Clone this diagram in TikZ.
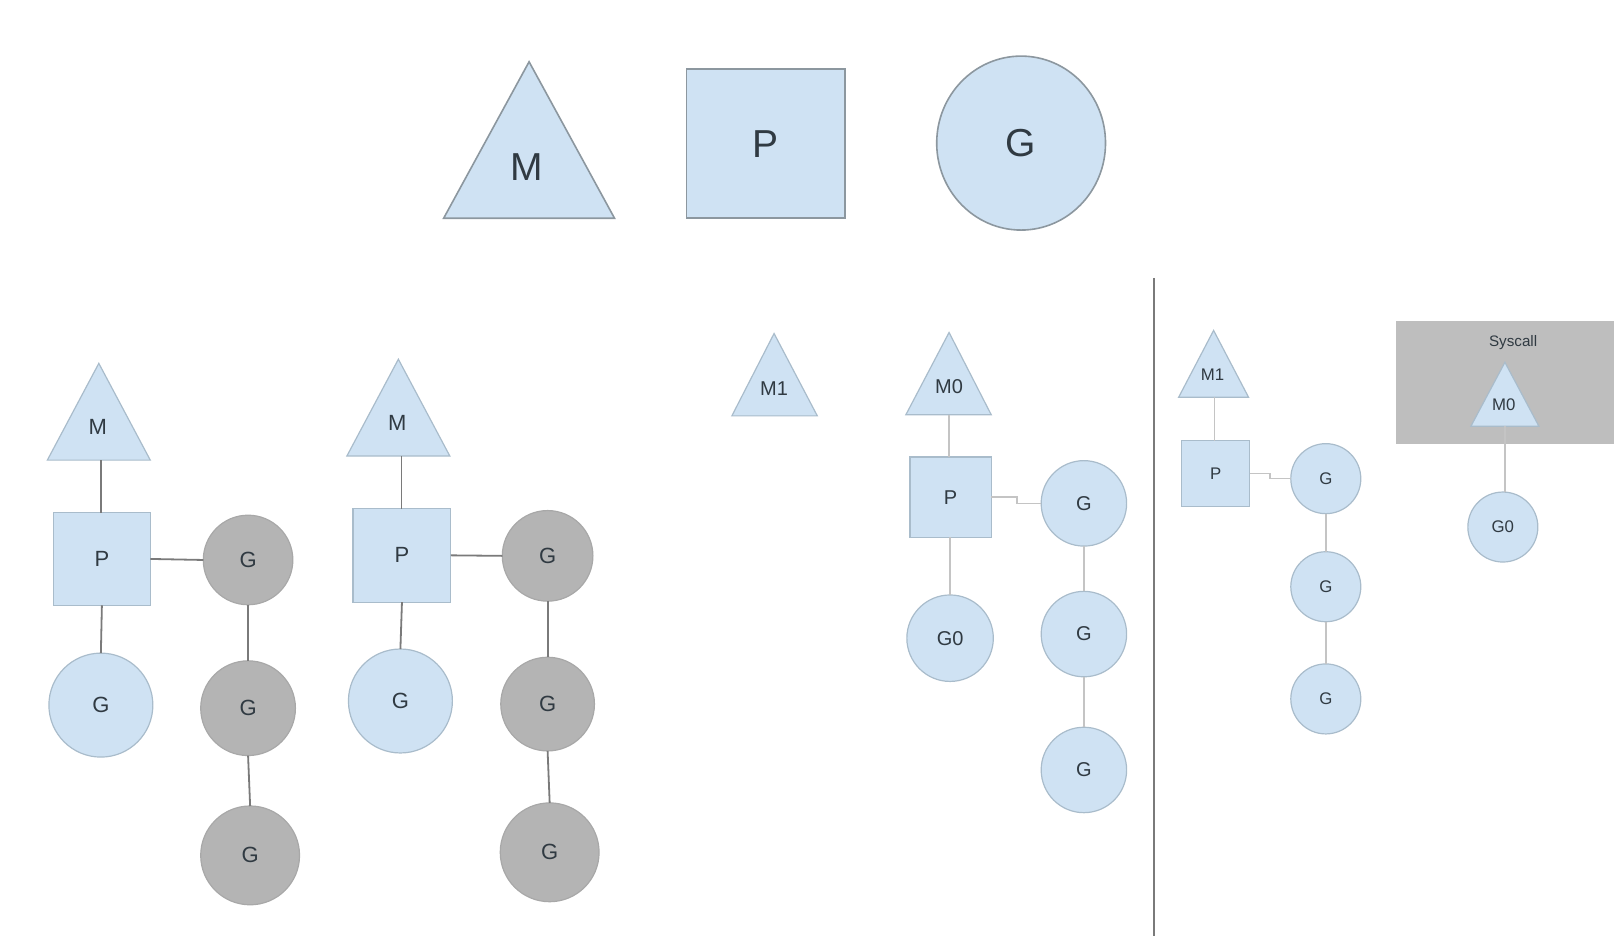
\documentclass[tikz,border=0pt]{standalone}
\usepackage{fontspec}
\setmainfont{Liberation Sans}
\usetikzlibrary{shapes.geometric}
\definecolor{lblue}{HTML}{CFE2F3}
\definecolor{lborder}{HTML}{A9BCCB}
\definecolor{tborder}{HTML}{8C979F}
\definecolor{gfill}{HTML}{B4B4B4}
\definecolor{gborder}{HTML}{A8A8A8}
\definecolor{sysfill}{HTML}{BEBEBE}
\definecolor{txt}{HTML}{303A42}
\definecolor{darkln}{HTML}{7A7A7A}
\definecolor{lightln}{HTML}{C4C4C4}
\def\U{0.51465pt}
\tikzset{
  base/.style={inner sep=0pt, outer sep=0pt, text=txt},
  bigbox/.style={base, rectangle, fill=lblue, draw=tborder, line width=0.8pt, font=\fontsize{19.5}{22}\selectfont},
  bigell/.style={base, ellipse, fill=lblue, draw=tborder, line width=0.8pt, font=\fontsize{19.5}{22}\selectfont},
  pbox/.style={base, rectangle, fill=lblue, draw=lborder, line width=0.6pt},
  lcirc/.style={base, circle, fill=lblue, draw=lborder, line width=0.6pt},
  gcirc/.style={base, circle, fill=gfill, draw=gborder, line width=0.6pt},
  tri/.style={fill=lblue, draw=lborder, line width=0.6pt},
  bigtri/.style={fill=lblue, draw=tborder, line width=0.8pt},
  lbl/.style={base},
  fL/.style={font=\fontsize{11}{13}\selectfont},
  fM/.style={font=\fontsize{10}{12}\selectfont},
  fS/.style={font=\fontsize{8.4}{10}\selectfont},
  dline/.style={draw=darkln, line width=0.9pt},
  lline/.style={draw=lightln, line width=0.8pt},
}
\begin{document}
\begin{tikzpicture}[x=0.51465pt, y=-0.51465pt]
\useasboundingbox (0,0) rectangle (1568,909);

% ---------- legend row ----------
\draw[bigtri] (431,212) -- (514,60) -- (597,212) -- cycle;
\node[lbl, font=\fontsize{19.5}{22}\selectfont] (tm) at (512,162) {M};
\node[bigbox, minimum width={154*\U}, minimum height={145*\U}] (tp) at (744,139.5) {P};
\node[bigell, minimum width={164*\U}, minimum height={169*\U}] (tg) at (992,139) {G};

% ---------- left group 1 ----------
\draw[tri] (46,447) -- (96,353) -- (146,447) -- cycle;
\node[lbl, fL] (am) at (95,415) {M};
\coordinate (amb) at (98,447);
\node[pbox, fL, minimum width={94*\U}, minimum height={90*\U}] (ap) at (99,543) {P};
\node[lcirc, fL, minimum size={101*\U}] (agl) at (98,685) {G};
\node[gcirc, fL, minimum size={87*\U}] (ag1) at (241,544) {G};
\node[gcirc, fL, minimum size={92*\U}] (ag2) at (241,688) {G};
\node[gcirc, fL, minimum size={96*\U}] (ag3) at (243,831) {G};
\draw[dline] (amb) -- (ap.north -| amb);
\draw[dline] (ap.east) -- (ag1.west);
\draw[dline] (ap.south) -- (agl.north);
\draw[dline] (ag1.south) -- (ag2.north);
\draw[dline] (ag2.south) -- (ag3.north);

% ---------- left group 2 ----------
\draw[tri] (337,443) -- (387,349) -- (437,443) -- cycle;
\node[lbl, fL] (bm) at (386,411) {M};
\coordinate (bmb) at (390,443);
\node[pbox, fL, minimum width={95*\U}, minimum height={91*\U}] (bp) at (390.5,539.5) {P};
\node[lcirc, fL, minimum size={101*\U}] (bgl) at (389,681) {G};
\node[gcirc, fL, minimum size={88*\U}] (bg1) at (532,540) {G};
\node[gcirc, fL, minimum size={91*\U}] (bg2) at (532,684) {G};
\node[gcirc, fL, minimum size={96*\U}] (bg3) at (534,828) {G};
\draw[dline] (bmb) -- (bp.north -| bmb);
\draw[dline] (bp.east) -- (bg1.west);
\draw[dline] (bp.south) -- (bgl.north);
\draw[dline] (bg1.south) -- (bg2.north);
\draw[dline] (bg2.south) -- (bg3.north);

% ---------- middle ----------
\draw[tri] (711,404) -- (752,324) -- (794,404) -- cycle;
\node[lbl, fM] (cm1) at (752,378) {M1};
\draw[tri] (880,403) -- (922,323) -- (963,403) -- cycle;
\node[lbl, fM] (cm0) at (922,376) {M0};
\coordinate (cm0b) at (922,403);
\node[pbox, fM, minimum width={79*\U}, minimum height={78*\U}] (cp) at (923.5,483) {P};
\node[lcirc, fM, minimum size={83*\U}] (cg1) at (1053,489) {G};
\node[lcirc, fM, minimum size={83*\U}] (cg2) at (1053,616) {G};
\node[lcirc, fM, minimum size={83*\U}] (cg3) at (1053,748) {G};
\node[lcirc, fM, minimum size={84*\U}] (cg0) at (923,620) {G0};
\draw[lline] (cm0b) -- (cp.north -| cm0b);
\draw[lline] (cp.east) -- ++(25,0) |- (cg1.west);
\draw[lline] (cp.south -| cg0) -- (cg0.north);
\draw[lline] (cg1.south) -- (cg2.north);
\draw[lline] (cg2.south) -- (cg3.north);

% ---------- divider ----------
\coordinate (dtop) at (1121,270);
\coordinate (dbot) at (1121,912);
\draw[draw=darkln, line width=1.1pt] (dtop) -- (dbot);

% ---------- right ----------
\draw[tri] (1145,386) -- (1179,321) -- (1213,386) -- cycle;
\node[lbl, fS] (dm1) at (1178,364) {M1};
\coordinate (dm1b) at (1180,386);
\node[pbox, fS, minimum width={66*\U}, minimum height={64*\U}] (dp) at (1181,460) {P};
\node[lcirc, fS, minimum size={68*\U}] (dg1) at (1288,465) {G};
\node[lcirc, fS, minimum size={68*\U}] (dg2) at (1288,570) {G};
\node[lcirc, fS, minimum size={68*\U}] (dg3) at (1288,679) {G};
\draw[lline] (dm1b) -- (dp.north -| dm1b);
\draw[lline] (dp.east) -- ++(20,0) |- (dg1.west);
\draw[lline] (dg1.south) -- (dg2.north);
\draw[lline] (dg2.south) -- (dg3.north);

\node[base, rectangle, fill=sysfill, minimum width={216*\U}, minimum height={119*\U}, anchor=north west] (sys) at (1356,312) {};
\node[lbl, font=\fontsize{7.6}{9}\selectfont] (syst) at (1470,333) {Syscall};
\draw[tri] (1429,414) -- (1462,352) -- (1495,414) -- cycle;
\node[lbl, fS] (dm0) at (1461,393) {M0};
\coordinate (dm0b) at (1462,414);
\node[lcirc, fS, minimum size={68*\U}] (dg0) at (1460,512) {G0};
\draw[lline] (dm0b) -- (dg0.north -| dm0b);
\end{tikzpicture}
\end{document}
